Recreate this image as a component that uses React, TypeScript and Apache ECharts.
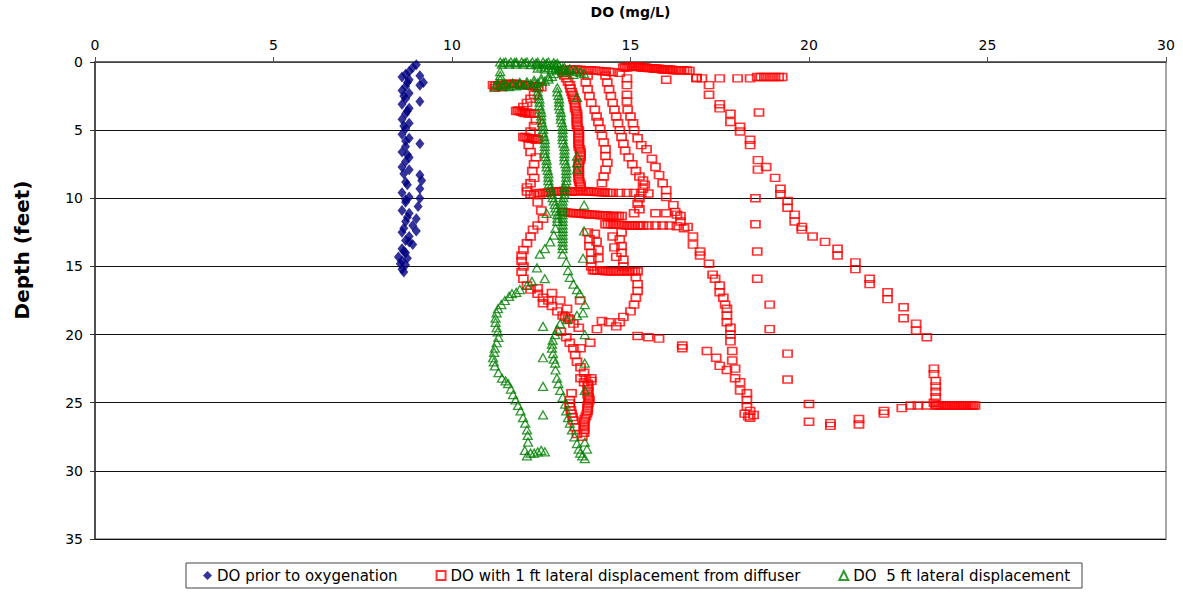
import React, { useEffect, useRef } from "react";
import * as echarts from "echarts";

// ---- Axis ticks ----
const xTicks = [0, 5, 10, 15, 20, 25, 30];
const yTicks = [0, 5, 10, 15, 20, 25, 30, 35];

// ---- Series names ----
const seriesNames = [
  "DO prior to oxygenation",
  "DO with 1 ft lateral displacement from diffuser",
  "DO  5 ft lateral displacement",
];

// ---- DO prior to oxygenation: [DO mg/L, depth ft] ----
const priorProfile: number[][] = [
  [9.0, 0.2], [8.9, 0.4], [8.8, 0.7], [8.7, 0.9], [9.1, 1.0], [8.6, 1.1], [8.8, 1.3], [9.2, 1.5],
  [9.1, 1.7], [8.7, 1.8], [8.6, 2.1], [8.8, 2.3], [8.7, 2.7], [9.1, 2.9], [8.6, 3.1], [8.8, 3.4],
  [8.7, 3.8], [8.6, 4.2], [8.8, 4.5], [8.7, 4.9], [8.6, 5.3], [8.8, 5.6], [9.1, 6.0], [8.7, 6.2],
  [8.6, 6.6], [8.8, 7.0], [8.7, 7.3], [8.6, 7.7], [8.8, 7.9], [9.1, 8.3], [9.15, 8.7], [8.7, 8.8],
  [9.1, 9.3], [8.6, 9.6], [8.8, 9.9], [9.1, 10.0], [8.7, 10.3], [9.05, 10.6], [8.6, 10.9], [8.8, 11.1],
  [9.0, 11.5], [8.7, 11.7], [8.9, 12.0], [9.0, 12.4], [8.6, 12.5], [8.8, 12.8], [8.7, 13.1], [8.9, 13.4],
  [8.6, 13.7], [8.7, 14.0], [8.5, 14.3], [8.6, 14.6], [8.7, 14.9], [8.6, 15.2], [8.65, 15.4],
  [8.75, 1.5], [8.65, 2.5], [8.75, 3.6], [8.65, 4.7], [8.7, 5.8], [8.75, 6.8], [8.65, 8.2], [8.75, 9.0],
  [8.7, 10.1], [8.75, 11.4], [8.65, 12.2], [8.8, 13.2], [8.65, 13.9], [8.75, 14.4], [8.55, 14.8],
];

// ---- DO with 1 ft lateral displacement (several casts) ----
const redTopBand: number[][] = [
  [13.1, 0.6], [13.3, 0.55], [13.5, 0.55], [13.7, 0.6], [13.9, 0.6], [14.1, 0.65], [14.3, 0.7], [14.5, 0.75],
  [14.7, 0.8], [14.8, 0.4], [14.9, 0.4], [15.0, 0.35], [15.1, 0.35], [15.2, 0.35], [15.3, 0.4], [15.4, 0.4],
  [15.5, 0.45], [15.6, 0.45], [15.7, 0.5], [15.8, 0.5], [15.9, 0.55], [16.0, 0.55], [16.1, 0.55], [16.2, 0.6],
  [16.35, 0.6], [16.5, 0.6], [16.65, 0.65], [16.0, 1.3], [16.85, 1.15], [17.0, 1.2], [17.5, 1.2], [18.0, 1.2],
  [18.35, 1.2], [18.55, 1.1], [18.65, 1.1], [18.75, 1.1], [18.85, 1.1], [18.95, 1.1], [19.05, 1.1], [19.15, 1.1],
  [19.25, 1.1],
  [14.85, 0.38], [14.95, 0.37], [15.05, 0.35], [15.15, 0.35], [15.25, 0.37], [15.35, 0.4], [15.45, 0.42], [15.55, 0.45],
  [15.65, 0.48], [15.75, 0.5], [15.85, 0.52], [15.95, 0.55], [16.05, 0.55], [16.15, 0.57], [16.28, 0.6], [16.42, 0.6],
  [16.58, 0.62], [13.2, 0.58], [13.4, 0.55], [13.6, 0.57], [13.8, 0.6], [14.0, 0.62], [14.2, 0.68], [14.4, 0.72],
];
const redLeftCast: number[][] = [
  [11.15, 1.7], [11.3, 1.7], [11.45, 1.65], [11.6, 1.6], [11.75, 1.6], [11.9, 1.65], [12.05, 1.7], [12.2, 1.75],
  [12.35, 1.8], [12.5, 1.85], [11.2, 1.9], [11.4, 1.85],
  [11.22, 1.75], [11.37, 1.7], [11.52, 1.65], [11.67, 1.6], [11.82, 1.62], [11.97, 1.68], [12.12, 1.72], [12.27, 1.78],
  [12.42, 1.82],
  [12.3, 2.4], [12.2, 2.7], [12.1, 3.0], [12.0, 3.3], [11.8, 3.6], [11.9, 3.6], [12.0, 3.7], [12.1, 3.7],
  [12.2, 3.75], [12.3, 3.8], [11.85, 3.55], [11.95, 3.65], [12.05, 3.75], [12.15, 3.8],
  [12.35, 4.3], [12.3, 4.7], [12.2, 5.1], [12.0, 5.5], [12.1, 5.55], [12.2, 5.6],
  [12.3, 5.6], [12.4, 5.65], [12.05, 5.5], [12.15, 5.6], [12.25, 5.65], [12.35, 5.7],
  [12.15, 6.1], [12.2, 6.6], [12.35, 7.0], [12.3, 7.5], [12.25, 8.0], [12.3, 8.5],
  [12.2, 8.9], [12.1, 9.2], [12.1, 9.5], [12.2, 9.7], [12.3, 9.75],
  [12.4, 9.6], [12.55, 9.6], [12.7, 9.55], [12.85, 9.5], [13.0, 9.5], [13.15, 9.45], [13.3, 9.5], [13.45, 9.5],
  [13.6, 9.45], [13.75, 9.5], [13.9, 9.5], [14.05, 9.55], [14.2, 9.55], [14.35, 9.6], [14.5, 9.6], [14.9, 9.6],
  [15.3, 9.6], [15.5, 9.65],
  [12.47, 9.65], [12.62, 9.6], [12.77, 9.55], [12.92, 9.5], [13.07, 9.48], [13.22, 9.47], [13.37, 9.5], [13.52, 9.48],
  [13.67, 9.47], [13.82, 9.5], [13.97, 9.52], [14.12, 9.55], [14.27, 9.58], [14.42, 9.6], [14.7, 9.6], [15.1, 9.6],
  [12.4, 10.3], [12.5, 10.9], [12.55, 11.5], [12.4, 12.0], [12.27, 12.3], [12.2, 12.8], [12.1, 13.3], [12.0, 13.8],
  [11.95, 14.2], [11.95, 14.6], [12.0, 15.0], [11.95, 15.4], [12.0, 15.9], [12.1, 16.4], [12.2, 16.7], [12.4, 17.0],
  [12.55, 17.3], [12.7, 17.5], [12.8, 17.9], [12.95, 18.3], [13.1, 18.6], [13.25, 18.8], [13.4, 19.2], [13.55, 19.5],
  [12.4, 16.6], [12.8, 16.95], [13.03, 17.5], [12.55, 17.7], [13.22, 18.1], [13.59, 17.5], [13.17, 18.7], [13.3, 18.9],
  [13.05, 19.8], [13.2, 20.2], [13.3, 20.6], [13.4, 21.0], [13.45, 21.5], [13.5, 22.0], [13.6, 22.4], [13.7, 22.8],
  [13.75, 23.2], [13.8, 23.6], [13.8, 24.0], [13.8, 24.4], [13.85, 24.8], [13.8, 25.2], [13.8, 25.6], [13.75, 26.0],
  [13.7, 26.4], [13.7, 26.8], [13.7, 27.2], [13.65, 27.5], [13.35, 24.3], [13.3, 24.8], [13.3, 25.3], [13.35, 25.8],
  [13.4, 26.3], [13.45, 26.8], [13.5, 27.3], [13.6, 23.2], [13.7, 23.5], [13.9, 23.4], [13.9, 23.2],
  [13.82, 23.8], [13.82, 24.2], [13.83, 24.6], [13.82, 25.0], [13.8, 25.4], [13.78, 25.8], [13.72, 26.2], [13.7, 26.6],
  [13.7, 27.0], [13.3, 25.05], [13.33, 25.55], [13.38, 26.05],
];
const redCastA: number[][] = [
  [13.1, 0.8], [13.2, 1.2], [13.3, 1.7], [13.35, 2.2], [13.4, 2.6], [13.45, 3.0], [13.45, 3.4], [13.5, 3.8],
  [13.5, 4.2], [13.5, 4.6], [13.55, 5.0], [13.55, 5.4], [13.55, 5.8], [13.55, 6.2], [13.6, 6.6], [13.6, 7.0],
  [13.55, 7.4], [13.55, 7.8], [13.55, 8.2], [13.55, 8.6], [13.6, 9.0],
  [13.15, 1.0], [13.25, 1.45], [13.32, 1.95], [13.38, 2.4], [13.42, 2.8], [13.45, 3.2], [13.48, 3.6], [13.5, 4.0],
  [13.5, 4.4], [13.52, 4.8], [13.55, 5.2], [13.55, 5.6], [13.55, 6.0], [13.58, 6.4], [13.6, 6.8], [13.58, 7.2],
  [13.55, 7.6], [13.55, 8.0], [13.55, 8.4], [13.57, 8.8], [13.6, 9.2],
  [13.1, 11.0], [13.25, 11.05], [13.4, 11.1], [13.55, 11.1], [13.7, 11.15], [13.85, 11.2], [14.0, 11.2], [14.15, 11.25],
  [14.3, 11.25], [14.45, 11.3], [14.6, 11.3], [14.75, 11.3], [15.1, 11.1], [15.7, 11.1], [16.0, 11.1], [16.3, 11.2],
  [13.17, 11.02], [13.32, 11.07], [13.47, 11.1], [13.62, 11.12], [13.77, 11.17], [13.92, 11.2], [14.07, 11.22], [14.22, 11.25],
  [14.37, 11.27], [14.52, 11.3], [14.67, 11.3],
  [14.3, 11.9], [14.45, 11.9], [14.6, 11.95], [14.75, 11.95], [14.9, 12.0], [15.05, 12.0], [15.2, 12.0], [15.35, 12.0],
  [15.5, 12.0], [15.7, 12.0], [15.9, 12.0], [16.1, 12.0], [16.3, 12.05], [16.5, 12.2],
  [14.37, 11.9], [14.52, 11.92], [14.67, 11.95], [14.82, 11.97], [14.97, 12.0], [15.12, 12.0], [15.27, 12.0],
];
const redCastB: number[][] = [
  [13.8, 1.0], [13.75, 1.5], [13.8, 2.0], [13.85, 2.5], [13.9, 3.0], [14.0, 3.5], [14.05, 4.0], [14.1, 4.4],
  [14.15, 4.9], [14.2, 5.4], [14.25, 5.9], [14.3, 6.4], [14.3, 6.9], [14.35, 7.4], [14.3, 7.9], [14.25, 8.4],
  [14.2, 8.9],
  [13.8, 12.5], [13.85, 13.0], [13.85, 13.5], [13.9, 14.0], [13.9, 14.5], [13.9, 15.0], [14.0, 12.6], [14.05, 13.2],
  [14.1, 13.8], [14.1, 14.4], [14.5, 12.8], [14.55, 13.6], [14.6, 14.3],
  [14.0, 15.3], [14.15, 15.3], [14.3, 15.35], [14.45, 15.35], [14.6, 15.35], [14.75, 15.35], [14.9, 15.35], [15.05, 15.35],
  [15.2, 15.35], [13.95, 15.28], [14.07, 15.3], [14.22, 15.32], [14.37, 15.35], [14.52, 15.35], [14.67, 15.35],
  [14.82, 15.35], [14.97, 15.35], [15.12, 15.35],
  [15.15, 15.8], [15.2, 16.3], [15.2, 16.8], [15.15, 17.3], [15.1, 17.8], [15.0, 18.3], [14.8, 18.7],
  [14.7, 19.1], [14.6, 19.4], [14.4, 19.1], [14.2, 19.0], [14.06, 19.6], [13.87, 20.6], [13.6, 21.0],
  [15.2, 20.1], [15.5, 20.2], [15.8, 20.3], [16.45, 20.8], [16.45, 21.0], [17.14, 21.2], [17.4, 21.7], [17.5, 22.3],
  [17.7, 22.6],
];
const redCastC: number[][] = [
  [14.3, 1.0], [14.35, 1.5], [14.4, 2.0], [14.45, 2.5], [14.5, 3.0], [14.55, 3.5], [14.6, 4.0], [14.65, 4.5],
  [14.7, 5.0], [14.75, 5.5], [14.8, 6.0], [14.85, 6.5], [14.95, 7.0], [15.05, 7.5], [15.15, 8.0], [15.25, 8.4],
  [15.35, 8.7], [15.4, 9.0], [15.35, 9.3], [15.25, 10.0], [15.2, 10.4], [15.25, 10.8],
  [14.75, 12.5], [14.7, 13.0], [14.75, 13.5], [14.75, 14.0], [14.8, 14.5], [14.8, 15.0],
];
const redCastMid: number[][] = [
  [14.9, 1.2], [14.9, 1.7], [14.9, 2.4], [14.9, 2.9], [14.92, 3.5], [15.0, 4.0], [15.07, 4.5], [15.1, 5.0],
  [15.2, 5.6], [15.3, 6.1], [15.45, 6.4], [15.6, 7.1], [15.7, 7.7], [15.8, 8.3], [15.9, 8.9], [16.0, 9.4],
  [16.0, 9.9], [16.2, 10.5], [16.25, 11.0], [16.4, 11.3], [16.4, 11.7], [16.6, 12.1], [16.75, 12.8], [16.75, 13.4],
  [16.95, 13.9], [16.95, 14.2], [17.2, 14.8], [17.3, 15.6], [17.37, 15.9], [17.5, 16.4], [17.5, 16.9], [17.6, 17.3],
  [17.65, 17.8], [17.7, 18.1], [17.7, 18.6], [17.7, 19.1], [17.8, 19.5], [17.8, 20.0], [17.8, 20.5], [17.85, 21.2],
  [17.85, 21.9], [17.93, 22.5], [17.93, 23.2], [18.07, 23.5], [18.07, 24.1], [18.26, 24.3], [18.26, 24.8], [18.26, 25.3],
  [18.35, 25.6], [18.35, 26.1], [18.2, 25.8], [18.45, 25.9], [18.3, 26.0],
];
const redCastFar: number[][] = [
  [16.85, 1.2], [17.2, 1.7], [17.2, 2.4], [17.5, 3.1], [17.5, 3.4], [17.8, 3.8], [17.8, 4.4], [18.07, 4.75],
  [18.07, 5.1], [18.35, 5.7], [18.35, 6.1], [18.57, 7.2], [18.57, 7.9], [18.8, 7.7], [19.05, 8.5], [19.2, 9.3],
  [19.2, 9.7], [19.4, 10.2], [19.4, 10.7], [19.6, 11.2], [19.6, 11.7], [19.8, 12.1], [19.8, 12.3], [20.1, 12.8],
  [20.45, 13.2], [20.8, 13.7], [20.8, 14.2], [21.3, 14.7], [21.3, 15.2], [21.7, 15.9], [21.7, 16.3], [22.2, 16.9],
  [22.2, 17.4], [22.65, 18.0], [22.65, 18.8], [23.0, 19.2], [23.0, 19.7], [23.3, 20.2],
  [23.5, 22.5], [23.5, 22.9], [23.55, 23.4], [23.55, 23.8], [23.55, 24.2], [23.55, 24.6], [23.5, 25.0],
  [23.6, 25.2], [23.7, 25.2], [23.8, 25.2], [23.9, 25.2], [24.0, 25.2], [24.1, 25.2], [24.2, 25.2], [24.3, 25.2],
  [24.4, 25.2], [24.5, 25.2], [24.6, 25.2], [23.3, 25.2], [23.05, 25.2], [22.85, 25.2], [22.6, 25.4], [22.1, 25.6],
  [22.1, 25.8], [21.4, 26.2], [21.4, 26.6], [20.6, 26.5], [20.6, 26.7], [20.0, 26.4], [20.0, 25.1],
  [23.55, 25.2], [23.65, 25.2], [23.75, 25.2], [23.85, 25.2], [23.95, 25.2], [24.05, 25.2], [24.15, 25.2], [24.25, 25.2],
  [24.35, 25.2], [24.45, 25.2], [24.55, 25.2], [24.65, 25.2],
];
const redCastSparse: number[][] = [
  [18.6, 3.7], [18.5, 10.0], [18.5, 11.9], [18.55, 13.9], [18.55, 15.9], [18.9, 17.8], [18.9, 19.6], [19.4, 21.4],
  [19.4, 23.3],
];

// ---- DO 5 ft lateral displacement ----
const greenTop: number[][] = [
  [11.35, 0.0], [11.5, 0.0], [11.65, 0.0], [11.8, 0.0], [11.95, 0.0], [12.1, 0.0], [12.25, 0.0], [12.4, 0.0],
  [12.55, 0.0], [12.7, 0.0], [12.85, 0.05], [12.95, 0.1], [11.4, 0.15], [11.6, 0.15], [11.8, 0.15], [12.0, 0.15],
  [12.2, 0.2], [12.4, 0.2], [12.6, 0.2], [12.8, 0.25], [13.0, 0.3], [13.15, 0.4], [13.3, 0.5], [13.45, 0.6],
  [13.6, 0.75], [13.7, 0.85], [12.4, 0.45], [12.6, 0.5], [12.8, 0.55], [13.0, 0.6], [13.2, 0.75], [13.4, 0.9],
  [12.9, 0.85], [12.8, 1.05], [12.7, 1.25], [12.6, 1.4], [12.4, 1.55], [12.2, 1.6], [12.0, 1.7], [11.8, 1.75],
  [11.6, 1.8], [11.4, 1.75], [11.25, 1.6], [11.35, 0.7], [11.35, 1.0], [11.35, 1.3], [11.2, 1.8], [11.5, 1.6],
  [11.7, 1.55], [11.9, 1.5], [12.1, 1.45], [12.3, 1.35], [12.5, 1.2], [12.4, 1.9], [12.95, 1.9],
  [11.45, 0.05], [11.75, 0.05], [12.05, 0.05], [12.35, 0.1], [12.65, 0.1], [12.9, 0.2], [13.1, 0.45], [13.25, 0.62],
  [13.5, 0.7], [12.5, 0.35], [12.7, 0.4], [12.9, 0.45], [13.1, 0.65], [11.3, 1.7], [11.5, 1.75], [11.7, 1.7],
  [11.9, 1.65], [12.1, 1.6], [12.3, 1.55], [12.5, 1.4], [12.7, 1.1],
];
const greenInner: number[][] = [
  [12.4, 2.2], [12.45, 2.7], [12.45, 3.2], [12.5, 3.7], [12.5, 4.2], [12.55, 4.7], [12.55, 5.2], [12.6, 5.7],
  [12.6, 6.2], [12.6, 6.7], [12.65, 7.2], [12.65, 7.7], [12.7, 8.2], [12.7, 8.7], [12.75, 9.2], [12.8, 9.7],
  [12.85, 10.2], [12.9, 10.7], [12.95, 11.2], [12.95, 11.7], [12.9, 12.2], [12.85, 12.7], [12.75, 13.2], [12.6, 13.7],
  [12.42, 2.45], [12.45, 2.95], [12.48, 3.45], [12.5, 3.95], [12.52, 4.45], [12.55, 4.95], [12.58, 5.45], [12.6, 5.95],
  [12.6, 6.45], [12.62, 6.95], [12.65, 7.45], [12.68, 7.95], [12.7, 8.45], [12.72, 8.95], [12.78, 9.45], [12.82, 9.95],
  [12.88, 10.45], [12.92, 10.95], [12.95, 11.45],
  [12.46, 14.1], [12.38, 15.1], [12.24, 16.1], [12.1, 16.4], [11.9, 16.7], [11.8, 16.9], [11.68, 17.0], [11.6, 17.2],
  [11.48, 17.5], [11.38, 17.8], [11.29, 18.1], [11.25, 18.4], [11.22, 18.8], [11.22, 19.1], [11.25, 19.5], [11.28, 19.8],
  [11.3, 20.2], [11.25, 20.6], [11.2, 21.0], [11.18, 21.3], [11.15, 21.7], [11.17, 22.0], [11.2, 22.3], [11.3, 22.8],
  [11.4, 23.2], [11.5, 23.4], [11.57, 23.6], [11.65, 24.0], [11.71, 24.4], [11.78, 24.8], [11.85, 25.2], [11.92, 25.6],
  [11.99, 26.1], [12.05, 26.5], [12.1, 27.0], [12.12, 27.4], [12.13, 27.9], [12.04, 28.5], [12.1, 28.9], [12.2, 28.7],
  [12.3, 28.7], [12.4, 28.6], [12.5, 28.5], [12.6, 28.6],
];
const greenOuter: number[][] = [
  [12.95, 2.2], [13.0, 2.7], [13.0, 3.2], [13.05, 3.7], [13.05, 4.2], [13.1, 4.7], [13.1, 5.2], [13.1, 5.7],
  [13.15, 6.2], [13.15, 6.7], [13.15, 7.2], [13.2, 7.7], [13.2, 8.2], [13.2, 8.7], [13.15, 9.2], [13.15, 9.7],
  [13.1, 10.2], [13.1, 10.7], [13.1, 11.2], [13.1, 11.7], [13.1, 12.2], [13.1, 12.7], [13.1, 13.2], [13.1, 13.7],
  [12.98, 2.45], [13.0, 2.95], [13.02, 3.45], [13.05, 3.95], [13.08, 4.45], [13.1, 4.95], [13.1, 5.45], [13.12, 5.95],
  [13.15, 6.45], [13.15, 6.95], [13.18, 7.45], [13.2, 7.95], [13.2, 8.45], [13.18, 8.95], [13.15, 9.45], [13.12, 9.95],
  [13.1, 10.45], [13.1, 10.95], [13.1, 11.45], [13.1, 11.95], [13.1, 12.45], [13.1, 12.95], [13.1, 13.45],
  [13.1, 14.1], [13.2, 14.7], [13.25, 15.3], [13.3, 15.8], [13.4, 16.3], [13.5, 16.7], [13.58, 17.0], [13.72, 17.8],
  [13.67, 18.4], [13.5, 18.6], [13.22, 18.9], [13.03, 19.2], [12.95, 19.6], [12.89, 20.0], [12.82, 20.4], [12.8, 20.7],
  [12.8, 21.0], [12.83, 21.4], [12.85, 21.8], [12.89, 22.1], [12.9, 22.6], [12.94, 23.2], [12.98, 23.6], [13.03, 24.1],
  [13.1, 24.6], [13.17, 25.1], [13.2, 25.6], [13.25, 26.1], [13.3, 26.5], [13.36, 27.0], [13.43, 27.5], [13.5, 28.0],
  [13.55, 28.4], [13.59, 28.7], [13.65, 28.9], [13.72, 29.1],
];
const greenScattered: number[][] = [
  [13.5, 2.6], [13.5, 6.9], [13.5, 7.4], [13.5, 7.9], [13.7, 10.5], [12.65, 11.1], [13.7, 12.4], [13.67, 14.4],
  [12.6, 15.9], [12.55, 19.4], [12.55, 21.7], [12.55, 23.8], [12.55, 25.9], [13.72, 20.0], [13.72, 22.1], [13.72, 24.1],
  [13.72, 27.9], [13.78, 28.4],
];

const FONT = "DejaVu Sans";

export default function App() {
  const ref = useRef<HTMLDivElement>(null);

  useEffect(() => {
    if (!ref.current) return;
    const chart = echarts.init(ref.current, undefined, { renderer: "svg" });

    const redData = [
      ...redTopBand, ...redLeftCast, ...redCastA, ...redCastB, ...redCastC,
      ...redCastMid, ...redCastFar, ...redCastSparse,
    ];
    const greenData = [...greenTop, ...greenInner, ...greenOuter, ...greenScattered];

    chart.setOption({
      animation: false,
      backgroundColor: "#ffffff",
      textStyle: { fontFamily: FONT },
      grid: {
        left: 95, right: 17, top: 60, bottom: 53,
        show: true, borderColor: "#8a8a8a", borderWidth: 1.5, backgroundColor: "transparent",
      },
      xAxis: {
        type: "value", position: "top", min: xTicks[0], max: xTicks[xTicks.length - 1], interval: 5,
        name: "DO (mg/L)", nameLocation: "middle", nameGap: 43,
        nameTextStyle: { fontFamily: FONT, fontWeight: "bold", fontSize: 14, color: "#000" },
        axisLine: { show: true, lineStyle: { color: "#555", width: 1.5 } },
        axisTick: { show: true, inside: false, length: 5, lineStyle: { color: "#555" } },
        axisLabel: { fontFamily: FONT, fontSize: 14, color: "#000", margin: 10 },
        splitLine: { show: false },
      },
      yAxis: {
        type: "value", inverse: true, min: yTicks[0], max: yTicks[yTicks.length - 1], interval: 5,
        axisLine: { show: true, lineStyle: { color: "#333", width: 1.5 } },
        axisTick: { show: true, inside: false, length: 5, lineStyle: { color: "#333" } },
        axisLabel: { fontFamily: FONT, fontSize: 14, color: "#000", margin: 12 },
        splitLine: { show: true, lineStyle: { color: "#111", width: 1 } },
      },
      legend: {
        left: 186, top: 563,
        padding: [5, 12, 5, 17],
        itemGap: 38, itemWidth: 9, itemHeight: 9,
        borderColor: "#444", borderWidth: 1,
        textStyle: { fontFamily: FONT, fontSize: 15, color: "#000" },
        data: seriesNames,
      },
      graphic: [
        {
          type: "text", x: 22, y: 250, rotation: Math.PI / 2,
          style: {
            text: "Depth (feet)", font: `bold 20px "${FONT}"`, fill: "#000",
            textAlign: "center", textVerticalAlign: "middle",
          },
        },
      ],
      series: [
        {
          name: seriesNames[0], type: "scatter", symbol: "diamond", symbolSize: [9, 11],
          itemStyle: { color: "#000080" }, data: priorProfile,
        },
        {
          name: seriesNames[1], type: "scatter", symbol: "rect", symbolSize: [9, 7],
          itemStyle: { color: "rgba(255,255,255,0)", borderColor: "#ff0000", borderWidth: 1.6 },
          data: redData,
        },
        {
          name: seriesNames[2], type: "scatter", symbol: "triangle", symbolSize: [9, 8],
          itemStyle: { color: "rgba(255,255,255,0)", borderColor: "#008000", borderWidth: 1.3 },
          data: greenData,
        },
      ],
    });
    return () => chart.dispose();
  }, []);

  return (
    <div
      ref={ref}
      style={{ position: "absolute", left: 0, top: 0, width: 1183, height: 592, background: "#fff" }}
    />
  );
}
